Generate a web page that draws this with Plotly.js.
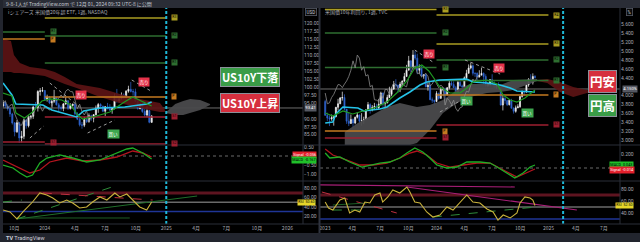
<!DOCTYPE html>
<html><head><meta charset="utf-8">
<script src="https://cdn.plot.ly/plotly-3.0.1.min.js"></script>
<style>html,body{margin:0;padding:0;background:#000;overflow:hidden;}#chart{width:640px;height:242px;}</style>
</head><body><div id="chart"></div>
<script>
// ================= LEFT PANEL: US Treasury 20+ ETF, weekly =================
const tltStart = '2023-08-28';
const tltOpen  = [94.0,95.2,94.0,93.2,91.5,88.7,85.9,88.8,84.0,84.5,89.6,87.8,90.5,90.8,93.7,93.6,98.6,98.8,98.9,96.1,96.8,95.0,95.5,96.6,94.4,93.6,93.3,94.7,95.7,93.3,94.2,94.6,91.6,89.9,88.1,88.0,89.8,89.1,91.0,90.2,91.3,93.3,94.5,94.0,92.4,93.8,93.2,92.8,93.2,97.2,95.6,96.4,97.5,96.6,98.7,99.3,98.6,98.5,95.5,93.2,94.6,92.3,91.2,92.6,88.9];
const tltHigh  = [95.9,95.4,94.6,93.6,91.9,89.0,89.6,89.0,86.2,90.1,90.0,91.1,91.2,94.1,95.3,99.0,99.7,100.0,99.0,97.6,97.2,96.0,99.1,96.8,95.0,94.2,95.0,96.9,95.8,94.9,94.8,94.9,92.1,90.4,89.0,90.6,90.2,91.7,91.3,91.5,94.2,95.0,94.9,94.1,94.0,95.0,94.6,93.5,98.0,99.4,97.0,98.3,98.0,99.0,100.4,101.6,99.4,99.5,95.8,95.0,94.8,93.3,94.0,92.8,91.2];
const tltLow   = [93.6,93.4,92.6,90.6,88.2,84.5,85.6,82.4,82.6,83.6,86.9,87.3,89.8,90.0,93.0,92.3,97.3,98.4,95.6,95.4,94.6,93.8,95.0,94.2,92.4,92.6,92.4,94.4,92.8,92.9,93.8,91.2,89.6,87.6,86.9,87.4,88.7,88.9,89.4,88.9,91.1,91.9,93.6,92.1,90.9,93.0,92.4,91.6,93.0,95.1,95.1,96.0,96.2,96.6,98.2,98.3,97.3,95.3,92.9,93.0,91.9,90.6,90.5,88.6,88.7];
const tltClose = [95.2,94.0,93.2,91.5,88.7,85.9,88.8,84.0,84.5,89.6,87.8,90.5,90.8,93.7,93.6,98.6,98.8,98.9,96.1,96.8,95.0,95.5,96.6,94.4,93.6,93.3,94.7,95.7,93.3,94.2,94.6,91.6,89.9,88.1,88.0,89.8,89.1,91.0,90.2,91.3,93.3,94.5,94.0,92.4,93.8,93.2,92.8,93.2,97.2,95.6,96.4,97.5,96.6,98.7,99.3,98.6,98.5,95.5,93.2,94.6,92.3,91.2,92.6,88.9,90.8];

const lCloudDates  = ['2023-08-28','2023-09-21','2023-09-30','2023-10-18','2023-11-17','2024-01-01','2024-01-31','2024-03-01','2024-04-06','2024-06-15','2024-08-14','2024-10-13','2024-12-13','2024-12-28'];
const lCloudTop    = [115.10,114.48,110.07,107.56,106.30,105.67,104.73,103.15,100.95,99.70,97.81,96.24,94.98,92.78];
const lCloudBottom = [104.73,104.73,104.41,104.41,104.10,103.47,102.21,100.95,99.70,96.87,94.98,93.41,92.15,92.15];
const lCloud2Dates  = ['2025-01-01','2025-01-28','2025-02-21','2025-03-14','2025-04-13','2025-05-13'];
const lCloud2Top    = [92.15,94.66,95.61,96.24,95.92,94.66];
const lCloud2Bottom = [91.83,91.20,91.20,91.83,92.78,94.35];

const lKijunDates = ['2023-08-28','2023-09-24','2023-10-06','2023-12-26','2024-01-22','2024-04-06','2024-04-27','2024-06-15','2024-08-29','2024-11-03','2024-11-18'];
const lKijun      = [101.27,97.49,94.66,94.35,92.78,90.58,92.46,93.41,93.72,94.66,95.29];
const lTenkanDates = ['2023-08-28','2023-09-24','2023-10-06','2023-11-01','2023-11-25','2023-12-23','2024-01-16','2024-02-21','2024-03-19','2024-04-09','2024-04-24','2024-06-05','2024-07-15','2024-08-23','2024-09-22','2024-10-13','2024-11-12','2024-11-18'];
const lTenkan      = [98.12,97.18,91.83,90.26,92.15,95.61,96.24,95.92,94.35,91.20,89.95,90.89,92.15,94.98,96.87,95.92,94.35,94.04];
const lSarDates = ['2023-11-17','2023-12-29',null,'2024-01-16','2024-04-15',null,'2024-05-09','2024-07-30',null,'2024-09-19','2024-11-21'];
const lSar      = [83.97,87.75,null,101.27,93.72,null,85.54,89.63,null,102.21,98.44];

const pivotBounds = ['2023-01-01','2024-01-01','2025-01-01'];
const lPivot2023Names  = ['R1','P','S1'];
const lPivot2023Values = [117.31,115.10,82.71];
const lPivot2024Names  = ['R3','R2','R1','P','S1','S2'];
const lPivot2024Values = [121.71,116.05,107.56,96.87,90.58,82.09];
const lPriceLine = [93.41];

const lSigDates = ['2024-04-18','2024-10-25','2024-07-27'];
const lSigVals  = [97.49,101.58,85.23];
const lSigTexts = ['売り','売り','買い'];

const lMacdDates = ['2023-08-28','2023-09-27','2023-10-18','2023-11-08','2023-11-25','2023-12-17','2024-01-07','2024-02-15','2024-03-25','2024-05-06','2024-06-15','2024-07-24','2024-09-04','2024-09-22','2024-10-22','2024-11-18'];
const lMacd      = [-0.50,-0.667,-0.944,-1.167,-1.056,-0.389,-0.111,0.056,-0.111,-0.333,-0.222,0.056,0.389,0.444,0.167,-0.167];
const lSignalDates = ['2023-08-28','2023-10-18','2023-11-17','2023-12-17','2024-01-16','2024-03-07','2024-04-24','2024-06-15','2024-08-05','2024-09-22','2024-10-22','2024-11-18'];
const lSignal      = [-0.222,-0.667,-0.944,-0.778,-0.333,-0.111,-0.278,-0.222,-0.056,0.278,0.167,-0.056];

const lRsiDates = ['2023-08-28','2023-09-18','2023-10-09','2023-10-27','2023-11-25','2023-12-17','2024-01-07','2024-01-25','2024-02-15','2024-03-07','2024-03-25','2024-04-15','2024-05-06','2024-05-24','2024-06-15','2024-07-06','2024-07-30','2024-08-14','2024-09-04','2024-09-22','2024-10-13','2024-11-03','2024-11-18'];
const lRsi      = [33.5,29.2,14.2,29.2,50.6,70.0,65.7,59.2,48.5,54.9,48.5,37.8,39.9,50.6,61.4,54.9,70.0,61.4,67.8,54.9,39.9,33.5,50.6];
const lTrendRedDates = ['2023-12-26','2024-11-21'];      const lTrendRed = [70.0,54.9];
const lTrendGreenDashDates = ['2023-10-09','2024-08-08']; const lTrendGreenDash = [14.2,87.1];
const lTrendGreenDates = ['2023-10-09','2025-04-04'];     const lTrendGreen = [14.2,63.5];
const lTrendFlatDates = ['2023-10-09','2024-09-13'];      const lTrendFlat = [16.3,16.3];
const lTrendShortDates = ['2023-08-28','2023-10-24'];     const lTrendShort = [50.6,54.9];

const lTickDates = ['2023-10-01','2024-01-01','2024-04-01','2024-07-01','2024-10-01','2025-01-01','2025-04-01','2025-07-01','2025-10-01','2026-01-01'];
const lTickText  = ['10月','2024','4月','7月','10月','2025','4月','7月','10月','2026'];
const lMarkerDates = ['2025-01-01'];

// ================= RIGHT PANEL: US10Y yield, weekly =================
const ustStart = '2023-01-02';
const ustOpen  = [3.87,3.56,3.50,3.48,3.51,3.53,3.74,3.82,3.95,3.96,3.70,3.43,3.38,3.47,3.39,3.52,3.57,3.43,3.44,3.46,3.68,3.80,3.69,3.74,3.76,3.73,3.81,4.06,3.82,3.84,3.96,4.03,4.15,4.25,4.24,4.18,4.26,4.33,4.43,4.57,4.78,4.62,4.91,4.84,4.57,4.65,4.44,4.47,4.20,4.23,3.91,3.90,3.87,4.05,3.94,4.14,4.14,4.02,4.18,4.28,4.25,4.18,4.08,4.30,4.22,4.20,4.40,4.50,4.62,4.67,4.50,4.50,4.42,4.46,4.50,4.43,4.22,4.26,4.36,4.27,4.18,4.24,4.19,3.79,3.94,3.89,3.80,3.90,3.72,3.65,3.73,3.75,3.98,4.10,4.08,4.24,4.37,4.30,4.43];
const ustHigh  = [3.91,3.62,3.56,3.58,3.54,3.75,3.93,3.97,4.09,4.03,3.70,3.63,3.58,3.49,3.53,3.63,3.58,3.61,3.53,3.70,3.86,3.83,3.79,3.84,3.82,3.93,4.09,4.07,3.87,4.02,4.20,4.19,4.33,4.37,4.24,4.31,4.34,4.51,4.69,4.89,4.79,5.02,5.00,4.94,4.70,4.67,4.47,4.50,4.30,4.27,3.96,3.90,4.10,4.07,4.17,4.19,4.18,4.19,4.33,4.35,4.32,4.22,4.33,4.35,4.25,4.43,4.58,4.70,4.74,4.70,4.52,4.52,4.57,4.63,4.52,4.48,4.29,4.37,4.48,4.32,4.25,4.30,4.21,4.01,3.99,3.90,3.91,3.93,3.74,3.78,3.81,3.99,4.11,4.11,4.26,4.39,4.48,4.50,4.46];
const ustLow   = [3.55,3.43,3.32,3.44,3.33,3.52,3.67,3.81,3.89,3.67,3.37,3.32,3.37,3.25,3.36,3.49,3.38,3.33,3.37,3.46,3.66,3.60,3.65,3.69,3.69,3.70,3.81,3.75,3.70,3.83,3.96,3.99,4.13,4.18,4.06,4.17,4.21,4.30,4.43,4.57,4.53,4.62,4.80,4.48,4.49,4.41,4.38,4.19,4.11,3.90,3.84,3.78,3.86,3.91,3.94,4.10,3.82,4.02,4.14,4.22,4.17,4.03,4.07,4.20,4.17,4.19,4.36,4.50,4.59,4.45,4.42,4.31,4.41,4.46,4.27,4.19,4.19,4.21,4.27,4.16,4.15,4.17,3.78,3.67,3.82,3.77,3.78,3.71,3.60,3.62,3.72,3.73,3.96,3.99,4.07,4.20,4.27,4.25,4.38];
const ustClose = [3.56,3.50,3.48,3.51,3.53,3.74,3.82,3.95,3.96,3.70,3.43,3.38,3.47,3.39,3.52,3.57,3.43,3.44,3.46,3.68,3.80,3.69,3.74,3.76,3.73,3.81,4.06,3.82,3.84,3.96,4.03,4.15,4.25,4.24,4.18,4.26,4.33,4.43,4.57,4.78,4.62,4.91,4.84,4.57,4.65,4.44,4.47,4.20,4.23,3.91,3.90,3.87,4.05,3.94,4.14,4.14,4.02,4.18,4.28,4.25,4.18,4.08,4.30,4.22,4.20,4.40,4.50,4.62,4.67,4.50,4.50,4.42,4.46,4.50,4.43,4.22,4.26,4.36,4.27,4.18,4.24,4.19,3.79,3.94,3.89,3.80,3.90,3.72,3.65,3.73,3.75,3.98,4.10,4.08,4.24,4.37,4.30,4.43,4.41];

const rCloudDates  = ['2023-03-07','2023-04-19','2023-05-18','2023-07-23','2023-09-03','2023-10-29','2023-12-10','2024-01-22','2024-03-08','2024-04-19','2024-06-14','2024-07-27','2024-09-07','2024-11-25'];
const rCloudTop    = [3.188,3.389,3.501,3.747,3.837,3.747,3.792,3.904,4.128,4.262,4.262,4.239,4.351,4.374];
const rCloudBottom = [2.785,2.785,2.785,2.785,2.830,2.942,3.233,3.613,3.837,3.971,4.060,4.083,4.128,4.329];
const rCloud2Dates  = ['2024-11-25','2024-12-28','2025-02-08','2025-03-23','2025-05-07','2025-05-24'];
const rCloud2Top    = [4.351,4.374,4.306,4.195,4.128,4.083];
const rCloud2Bottom = [4.329,4.284,4.083,3.971,4.060,4.083];

const rKijunDates = ['2023-01-02','2023-01-27','2023-02-06','2023-03-01','2023-04-19','2023-05-08','2023-06-30','2023-07-23','2023-09-03','2023-10-06','2023-11-08','2023-11-30','2024-01-12','2024-04-09','2024-04-29','2024-06-14','2024-07-27','2024-08-29','2024-09-20','2024-11-18'];
const rKijun      = [3.389,3.412,3.591,3.747,3.725,3.658,3.702,3.747,3.949,4.083,4.239,4.306,4.351,4.374,4.306,4.284,4.239,4.172,4.105,4.083];
const rTenkanDates = ['2023-01-02','2023-01-27','2023-03-01','2023-04-02','2023-05-18','2023-06-20','2023-07-23','2023-08-24','2023-09-26','2023-10-22','2023-11-14','2023-12-07','2023-12-23','2024-01-12','2024-02-14','2024-03-18','2024-04-09','2024-04-29','2024-06-14','2024-07-17','2024-08-06','2024-08-29','2024-09-20','2024-10-16','2024-11-18'];
const rTenkan      = [3.613,3.546,3.658,3.591,3.680,3.747,3.859,4.060,4.329,4.620,4.687,4.553,4.396,4.195,4.060,4.060,4.172,4.306,4.351,4.262,4.016,3.904,3.859,3.949,4.128];
const rSarDates = ['2023-10-22','2023-12-20',null,'2024-01-12','2024-03-24',null,'2024-04-03','2024-07-27'];
const rSar      = [5.022,4.754,null,3.635,3.904,null,4.799,4.485];

const rPivot2023Names  = ['R3','R2','R1','P','S1'];
const rPivot2023Values = [5.928,5.403,4.631,3.210,3.054];
const rPivot2024Names  = ['R4','R3','R2','R1','P','S1'];
const rPivot2024Values = [5.805,5.157,4.799,4.340,4.016,3.345];
const rPriceLine = [4.150];

const rSigDates = ['2023-12-07','2024-07-24','2024-04-09','2024-10-23'];
const rSigVals  = [4.933,4.620,3.881,3.613];
const rSigTexts = ['売り','売り','買い','買い'];

const rMacdDates = ['2023-01-02','2023-01-17','2023-02-19','2023-03-23','2023-05-02','2023-05-28','2023-06-30','2023-08-01','2023-09-03','2023-09-26','2023-10-22','2023-11-17','2023-12-10','2024-01-02','2024-02-04','2024-03-08','2024-04-09','2024-05-22','2024-06-24','2024-07-17','2024-08-19','2024-09-13','2024-10-10','2024-11-02','2024-11-18'];
const rMacd      = [0.214,0.143,0.157,0.086,0.014,0.043,0.071,0.086,0.143,0.214,0.286,0.229,0.143,0.043,0.0,0.014,0.086,0.086,0.071,0.014,-0.071,-0.143,-0.071,0.014,0.043];
const rSignalDates = ['2023-01-02','2023-01-27','2023-03-14','2023-04-25','2023-06-07','2023-07-23','2023-09-03','2023-10-06','2023-10-29','2023-11-30','2024-01-02','2024-02-14','2024-03-28','2024-05-12','2024-06-24','2024-07-17','2024-08-19','2024-09-20','2024-10-23','2024-11-18'];
const rSignal      = [0.271,0.186,0.114,0.043,0.043,0.071,0.143,0.214,0.243,0.186,0.071,0.014,0.043,0.071,0.071,0.014,-0.057,-0.129,-0.071,-0.014];

const rRsiDates = ['2023-01-02','2023-01-13','2023-01-27','2023-02-19','2023-03-07','2023-03-17','2023-03-23','2023-04-09','2023-04-25','2023-05-12','2023-05-28','2023-06-13','2023-06-30','2023-07-09','2023-07-26','2023-08-11','2023-09-03','2023-09-26','2023-10-06','2023-10-22','2023-11-08','2023-11-30','2023-12-20','2024-01-12','2024-02-04','2024-02-24','2024-03-18','2024-04-09','2024-04-29','2024-05-22','2024-06-14','2024-07-04','2024-07-20','2024-08-06','2024-08-29','2024-09-20','2024-09-30','2024-10-16','2024-11-02','2024-11-11','2024-11-18'];
const rRsi      = [58.3,48.3,45,61.7,65,50,40,45,41.7,58.3,56.7,70,73.3,58.3,66.7,78.3,73.3,83.3,75,58.3,56.7,41.7,33.3,36.7,50,45,58.3,70,58.3,56.7,46.7,41.7,28.3,36.7,31.7,40,56.7,66.7,65,61.7,52.5];
const rTrendPinkDates = ['2022-12-16','2024-09-13'];      const rTrendPink = [86.7,83.3];
const rTrendPink2Dates = ['2023-09-26','2025-04-04'];     const rTrendPink2 = [83.3,45];
const rTrendRedDates = ['2022-12-22','2023-08-24'];       const rTrendRed = [75,40];
const rTrendGreenDashDates = ['2023-01-27','2023-05-18']; const rTrendGreenDash = [45,45];
const rTrendFlatDates = ['2023-01-27','2023-05-18'];      const rTrendFlat = [53.3,56.7];
const rTrendGreen2Dates = ['2023-12-20','2024-11-22'];    const rTrendGreen2 = [33.3,50];

const rTickDates = ['2023-01-01','2023-04-01','2023-07-01','2023-10-01','2024-01-01','2024-04-01','2024-07-01','2024-10-01','2025-01-01','2025-04-01','2025-07-01'];
const rTickText  = ['2023','4月','7月','10月','2024','4月','7月','10月','2025','4月','7月'];
const rMarkerDates = ['2025-02-18'];
const rsiLevels = [70,50,30];

// price-scale ticks (labels hidden under the value boxes / pane edge are left out, as on the original)
const lMainTicks = [85,87.5,90,95,97.5,100,102.5,105,107.5,110,112.5,115,117.5,120];
const rMainTicks = [3.0,3.2,3.4,3.6,3.8,4.0,4.4,4.6,4.8,5.0,5.2,5.4,5.6];

// ================= helpers =================
const W = 640, H = 242;
const px = v => v / W;
const py = v => 1 - v / H;
const TXT = '#a7aab3';
const FONT = "Roboto, 'Noto Sans CJK JP', sans-serif";
const CJK = "'Noto Sans CJK JP', Roboto, sans-serif";
const pivotColor = {R4:'#aa9d22', R3:'#aa9d22', R2:'#2e6e30', R1:'#2e6e30', P:'#c57a20', S1:'#9e1f30', S2:'#9e1f30'};

function weekly(start, n) {
  const out = []; const t0 = Date.parse(start + 'T00:00:00Z');
  for (let i = 0; i < n; i++) out.push(new Date(t0 + i * 7 * 864e5).toISOString().slice(0, 10));
  return out;
}
function line(x, y, xa, ya, color, width, dash) {
  return {type:'scatter', mode:'lines', x, y, xaxis:xa, yaxis:ya, line:{color, width, dash: dash || 'solid'}, hoverinfo:'skip', connectgaps:false};
}
function cloud(x, top, bot, xa, ya, fill) {
  return [
    {type:'scatter', mode:'lines', x, y:bot, xaxis:xa, yaxis:ya, line:{width:0, color:fill}, hoverinfo:'skip'},
    {type:'scatter', mode:'lines', x, y:top, xaxis:xa, yaxis:ya, line:{width:0, color:fill}, fill:'tonexty', fillcolor:fill, hoverinfo:'skip'}
  ];
}
function candles(x, o, h, l, c, xa, ya) {
  return {type:'candlestick', x, open:o, high:h, low:l, close:c, xaxis:xa, yaxis:ya, whiskerwidth:0,
    increasing:{line:{color:'#f2f2f2', width:0.7}, fillcolor:'#f2f2f2'},
    decreasing:{line:{color:'#2f64cf', width:0.7}, fillcolor:'#2f64cf'}, hoverinfo:'skip'};
}
function lagged(x, y, n) { return {x: x.slice(0, x.length - n), y: y.slice(n)}; }

const tltDates = weekly(tltStart, tltClose.length);
const ustDates = weekly(ustStart, ustClose.length);

const traces = [];
const annotations = [];
const shapes = [];

function pivots(names, values, from, to, xa, ya) {
  names.forEach((n, i) => {
    traces.push(line([from, to], [values[i], values[i]], xa, ya, pivotColor[n], 1.5));
    annotations.push({xref: xa, yref: ya, x: to, y: values[i], xanchor:'left', yanchor:'middle', xshift: 5,
      text: n, showarrow:false, bgcolor: pivotColor[n], borderpad: 0.3, font:{size:3.5, color:'#000', family:FONT}});
  });
}

const RED_CLOUD = 'rgba(92,19,21,0.92)';
const GRAY_CLOUD = 'rgba(74,74,76,0.95)';

// ===== LEFT main =====
traces.push(...cloud(lCloudDates, lCloudTop, lCloudBottom, 'x', 'y', RED_CLOUD));
traces.push(...cloud(lCloud2Dates, lCloud2Top, lCloud2Bottom, 'x', 'y', GRAY_CLOUD));
pivots(lPivot2023Names, lPivot2023Values, pivotBounds[0], pivotBounds[1], 'x', 'y');
pivots(lPivot2024Names, lPivot2024Values, pivotBounds[1], pivotBounds[2], 'x', 'y');
const lChikou = lagged(tltDates, tltClose, 26);
traces.push(line(lChikou.x, lChikou.y, 'x', 'y', '#8a8a8a', 0.8));
traces.push(line(lSarDates, lSar, 'x', 'y', '#9a9a9a', 1, 'dot'));
traces.push(line(lKijunDates, lKijun, 'x', 'y', '#25c3e8', 1.6));
traces.push(line(lTenkanDates, lTenkan, 'x', 'y', '#1e9a22', 1.2));
traces.push(candles(tltDates, tltOpen, tltHigh, tltLow, tltClose, 'x', 'y'));
// ===== LEFT MACD =====
traces.push(line(lSignalDates, lSignal, 'x', 'y2', '#b3141e', 1.3));
traces.push(line(lMacdDates, lMacd, 'x', 'y2', '#1fae26', 1.3));
// ===== LEFT RSI =====
traces.push(line(lTrendFlatDates, lTrendFlat, 'x', 'y3', '#1d5e25', 1));
traces.push(line(lTrendGreenDates, lTrendGreen, 'x', 'y3', '#1f6e2a', 1));
traces.push(line(lTrendGreenDashDates, lTrendGreenDash, 'x', 'y3', '#2e8b3a', 1, 'dash'));
traces.push(line(lTrendShortDates, lTrendShort, 'x', 'y3', '#2e8b3a', 1, 'dash'));
traces.push(line(lTrendRedDates, lTrendRed, 'x', 'y3', '#c03040', 1, 'dash'));
traces.push(line(lRsiDates, lRsi, 'x', 'y3', '#c9b23c', 1.1));

// ===== RIGHT main =====
traces.push(...cloud(rCloudDates, rCloudTop, rCloudBottom, 'x2', 'y4', GRAY_CLOUD));
traces.push(...cloud(rCloud2Dates, rCloud2Top, rCloud2Bottom, 'x2', 'y4', RED_CLOUD));
pivots(rPivot2023Names, rPivot2023Values, pivotBounds[0], pivotBounds[1], 'x2', 'y4');
pivots(rPivot2024Names, rPivot2024Values, pivotBounds[1], pivotBounds[2], 'x2', 'y4');
const rChikou = lagged(ustDates, ustClose, 26);
traces.push(line(rChikou.x, rChikou.y, 'x2', 'y4', '#8a8a8a', 0.8));
traces.push(line(rSarDates, rSar, 'x2', 'y4', '#9a9a9a', 1, 'dot'));
traces.push(line(rKijunDates, rKijun, 'x2', 'y4', '#25c3e8', 1.6));
traces.push(line(rTenkanDates, rTenkan, 'x2', 'y4', '#1e9a22', 1.2));
traces.push(candles(ustDates, ustOpen, ustHigh, ustLow, ustClose, 'x2', 'y4'));
// ===== RIGHT MACD =====
traces.push(line(rSignalDates, rSignal, 'x2', 'y5', '#b3141e', 1.3));
traces.push(line(rMacdDates, rMacd, 'x2', 'y5', '#1fae26', 1.3));
// ===== RIGHT RSI =====
traces.push(line(rTrendPinkDates, rTrendPink, 'x2', 'y6', '#a81f78', 1.2));
traces.push(line(rTrendPink2Dates, rTrendPink2, 'x2', 'y6', '#a81f78', 1.2));
traces.push(line(rTrendRedDates, rTrendRed, 'x2', 'y6', '#c03040', 1, 'dash'));
traces.push(line(rTrendFlatDates, rTrendFlat, 'x2', 'y6', '#1d5e25', 1));
traces.push(line(rTrendGreenDashDates, rTrendGreenDash, 'x2', 'y6', '#2e8b3a', 1, 'dash'));
traces.push(line(rTrendGreen2Dates, rTrendGreen2, 'x2', 'y6', '#2e8b3a', 1, 'dash'));
traces.push(line(rRsiDates, rRsi, 'x2', 'y6', '#c9b23c', 1.1));

function hline(xa, ya, v, color, width, dash) {
  shapes.push({type:'line', xref: xa + ' domain', yref: ya, x0:0, x1:1, y0:v, y1:v, line:{color, width, dash: dash || 'solid'}, layer:'below'});
}
[['x','y3'],['x2','y6']].forEach(([xa, ya]) => {
  hline(xa, ya, rsiLevels[0], '#5e1420', 3);
  hline(xa, ya, rsiLevels[1], '#6a6a6a', 1.5);
  hline(xa, ya, rsiLevels[2], '#1f3596', 1.5);
});
hline('x', 'y2', 0, '#6a6a6a', 1, 'dot');
hline('x2', 'y5', 0, '#6a6a6a', 1, 'dot');
hline('x', 'y', lPriceLine[0], '#6d6d6d', 1);
hline('x2', 'y4', rPriceLine[0], '#6d6d6d', 1);

lMarkerDates.forEach(d => shapes.push({type:'line', xref:'x', yref:'paper', x0:d, x1:d, y0:py(224), y1:py(8), line:{color:'#1fb9d8', width:2, dash:'3px,2px'}}));
rMarkerDates.forEach(d => shapes.push({type:'line', xref:'x2', yref:'paper', x0:d, x1:d, y0:py(224), y1:py(8), line:{color:'#1fb9d8', width:2, dash:'3px,2px'}}));

const FR = '#2a2e39';
shapes.push({type:'rect', xref:'paper', yref:'paper', x0:0, x1:1, y0:py(8), y1:1, fillcolor:'#2a2d36', line:{width:0}});
shapes.push({type:'rect', xref:'paper', yref:'paper', x0:0, x1:1, y0:0, y1:py(233), fillcolor:'#22252e', line:{width:0}});
shapes.push({type:'rect', xref:'paper', yref:'paper', x0:0, x1:px(3), y0:0, y1:1, fillcolor:'#22252e', line:{width:0}});
[145, 181, 224].forEach(yy => shapes.push({type:'line', xref:'paper', yref:'paper', x0:px(3), x1:1, y0:py(yy), y1:py(yy), line:{color:FR, width:1}}));
[303, 620].forEach(xx => shapes.push({type:'line', xref:'paper', yref:'paper', x0:px(xx), x1:px(xx), y0:py(224), y1:py(8), line:{color:FR, width:1}}));
shapes.push({type:'line', xref:'paper', yref:'paper', x0:px(319.5), x1:px(319.5), y0:py(233), y1:py(8), line:{color:'#2f333e', width:2}});

function sig(dates, vals, texts, xa, ya) {
  dates.forEach((d, i) => annotations.push({xref:xa, yref:ya, x:d, y:vals[i], text:texts[i], showarrow:false,
    bgcolor: texts[i] === '売り' ? '#e5324a' : '#3da64e', borderpad:0.6, font:{size:4.5, color:'#fff', family:CJK}}));
}
sig(lSigDates, lSigVals, lSigTexts, 'x', 'y');
sig(rSigDates, rSigVals, rSigTexts, 'x2', 'y4');

function paperText(x, y, text, opts) {
  annotations.push(Object.assign({xref:'paper', yref:'paper', x:px(x), y:py(y), text, showarrow:false, xanchor:'left', yanchor:'middle', font:{size:5, color:TXT, family:CJK}}, opts || {}));
}
paperText(4, 4, '9-8-1人が TradingView.com で 12月 01, 2024 09:32 UTC-8 に公開', {font:{size:5, color:'#c5c8d0', family:CJK}});
paperText(6, 12, 'iシェアーズ 米国債20年超 ETF, 1週, NASDAQ');
paperText(323, 11.5, '米国債10年利回り, 1週, TVC');
paperText(4, 238, '<b>TV</b> TradingView', {font:{size:5.5, color:'#d1d4dc', family:FONT}});
paperText(310.5, 12.5, 'USD', {xanchor:'center', bgcolor:'#0b0b0b', bordercolor:'#555a66', borderwidth:0.8, borderpad:0.8, font:{size:4.5, color:'#c5c8d0', family:FONT}});
paperText(629, 12.5, '%', {xanchor:'center', bgcolor:'#0b0b0b', bordercolor:'#555a66', borderwidth:0.8, borderpad:0.8, font:{size:4.5, color:'#c5c8d0', family:FONT}});

function big(xc, yc, text, bg, size) {
  annotations.push({xref:'paper', yref:'paper', x:px(xc), y:py(yc), text, showarrow:false, xanchor:'center', yanchor:'middle',
    bgcolor:bg, bordercolor:'#8b9099', borderwidth:1, borderpad:1, font:{size, color:'#fff', family:CJK, weight:700}});
}
big(250, 77, 'US10Y下落', '#3a9c47', 11);
big(250, 103.5, 'US10Y上昇', '#d62f3e', 11);
big(602, 81, '円安', '#d62f3e', 12.5);
big(602, 105, '円高', '#3a9c47', 12.5);

function box(xc, yref, y, text, bg, color, fs) {
  annotations.push({xref:'paper', yref, x:px(xc), y, text, showarrow:false, xanchor:'center', yanchor:'middle',
    bgcolor:bg, borderpad:0.3, font:{size: fs || 4.2, color, family:FONT}});
}
box(310.5, 'y', lPriceLine[0], lPriceLine[0].toFixed(2), '#555862', '#fff');
box(630, 'y4', rPriceLine[0], rPriceLine[0].toFixed(3) + '%', '#555862', '#fff');
box(304, 'paper', py(155), 'Signal  ' + lSignal[lSignal.length - 1].toFixed(3), '#e3202c', '#fff', 3.8);
box(304, 'paper', py(159.5), 'MACD  ' + lMacd[lMacd.length - 1].toFixed(3), '#20c02a', '#000', 3.8);
box(621.5, 'paper', py(165), 'MACD  ' + rMacd[rMacd.length - 1].toFixed(3), '#20c02a', '#000', 3.8);
box(621.5, 'paper', py(170), 'Signal  ' + rSignal[rSignal.length - 1].toFixed(3), '#e3202c', '#fff', 3.8);
box(306, 'y3', lRsi[lRsi.length - 1], 'RSI  ' + lRsi[lRsi.length - 1].toFixed(2), '#e6d62a', '#000', 3.6);
box(624.5, 'y6', rRsi[rRsi.length - 1], 'RSI  ' + rRsi[rRsi.length - 1].toFixed(2), '#e6d62a', '#000', 3.6);

const tf = {size:5, color:TXT, family:FONT};
const baseY = {showgrid:false, zeroline:false, showline:false, ticks:'', tickfont:tf, side:'right', fixedrange:true};
const baseX = {type:'date', showgrid:false, zeroline:false, showline:false, ticks:'', tickfont:Object.assign({}, tf, {family:CJK}), rangeslider:{visible:false}, fixedrange:true};

const layout = {
  width: W, height: H, margin:{l:0, r:0, t:0, b:0},
  paper_bgcolor:'#000', plot_bgcolor:'#000', showlegend:false,
  font:{family:FONT, color:TXT},
  xaxis: Object.assign({}, baseX, {domain:[px(3), px(303)], range:['2023-08-28','2026-02-17'], anchor:'y3', tickvals:lTickDates, ticktext:lTickText}),
  yaxis: Object.assign({}, baseY, {domain:[py(145), py(8)], range:[81.77, 124.85], anchor:'x', tickvals:lMainTicks, tickformat:'.2f'}),
  yaxis2: Object.assign({}, baseY, {domain:[py(181), py(145)], range:[-1.389, 0.611], anchor:'x', tickvals:[0.5,-0.5,-1], tickformat:'.2f'}),
  yaxis3: Object.assign({}, baseY, {domain:[py(224), py(181)], range:[3.4, 95.7], anchor:'x', tickvals:[80,60,40,20], tickformat:'.2f'}),
  xaxis2: Object.assign({}, baseX, {domain:[px(320), px(620)], range:['2022-12-16','2025-08-23'], anchor:'y6', tickvals:rTickDates, ticktext:rTickText}),
  yaxis4: Object.assign({}, baseY, {domain:[py(145), py(8)], range:[2.897, 5.962], anchor:'x2', tickvals:rMainTicks, tickformat:'.3f', ticksuffix:'%'}),
  yaxis5: Object.assign({}, baseY, {domain:[py(181), py(145)], range:[-0.186, 0.329], anchor:'x2', tickvals:[0.2], tickformat:'.3f'}),
  yaxis6: Object.assign({}, baseY, {domain:[py(224), py(181)], range:[21.7, 93.3], anchor:'x2', tickvals:[80,60,40], tickformat:'.2f'}),
  shapes, annotations
};

Plotly.newPlot('chart', traces, layout, {staticPlot:true, displayModeBar:false});
</script></body></html>
